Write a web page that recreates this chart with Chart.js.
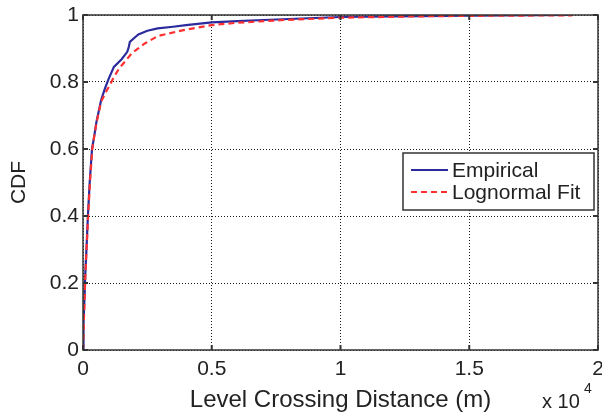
<!DOCTYPE html>
<html>
<head>
<meta charset="utf-8">
<script src="https://cdn.jsdelivr.net/npm/chart.js@4/dist/chart.umd.min.js"></script>
<style>
  body { margin: 0; background: #fff; }
  canvas { display: block; }
</style>
</head>
<body>
<canvas id="chart" width="602" height="417"></canvas>
<script>
// distances in units of 10^4 m
const empX = [0, 0.002, 0.006, 0.009, 0.014, 0.019, 0.026, 0.035, 0.044, 0.052, 0.07, 0.085, 0.1, 0.12, 0.15, 0.172, 0.178, 0.182, 0.2, 0.215, 0.25, 0.29, 0.35, 0.4, 0.5, 0.6, 0.7, 0.8, 1.0, 1.2, 1.5, 1.9];
const empY = [0, 0.08, 0.16, 0.23, 0.31, 0.40, 0.50, 0.60, 0.64, 0.68, 0.745, 0.78, 0.81, 0.845, 0.868, 0.89, 0.905, 0.92, 0.932, 0.942, 0.953, 0.96, 0.965, 0.97, 0.978, 0.982, 0.985, 0.988, 0.994, 0.996, 0.998, 1.0];

const fitX = [0, 0.003, 0.007, 0.01, 0.015, 0.02, 0.027, 0.036, 0.045, 0.053, 0.07, 0.085, 0.1, 0.12, 0.14, 0.19, 0.24, 0.29, 0.39, 0.5, 0.6, 0.78, 1.0, 1.3, 1.6, 1.9];
const fitY = [0, 0.08, 0.17, 0.24, 0.32, 0.40, 0.50, 0.60, 0.645, 0.68, 0.74, 0.765, 0.785, 0.815, 0.84, 0.886, 0.915, 0.937, 0.955, 0.97, 0.977, 0.985, 0.992, 0.996, 0.998, 0.999];

const xTicks = [0, 0.5, 1, 1.5, 2];
const yTicks = [0, 0.2, 0.4, 0.6, 0.8, 1];

const FONT = '"Liberation Sans", Arial, Helvetica, sans-serif';
const INK = '#222';

function toPoints(xs, ys) {
  return xs.map((x, i) => ({ x: x, y: ys[i] }));
}

// box round the axes, with small inward ticks (matlab style)
const axesBox = {
  id: 'axesBox',
  afterDraw(chart) {
    const { ctx, chartArea: a, scales } = chart;
    ctx.save();
    ctx.strokeStyle = '#333';
    ctx.lineWidth = 1.5;
    ctx.strokeRect(a.left, a.top, a.right - a.left, a.bottom - a.top);
    ctx.lineWidth = 2;
    ctx.beginPath();
    xTicks.forEach(v => {
      const px = scales.x.getPixelForValue(v);
      ctx.moveTo(px, a.bottom); ctx.lineTo(px, a.bottom - 5);
      ctx.moveTo(px, a.top); ctx.lineTo(px, a.top + 5);
    });
    yTicks.forEach(v => {
      const py = scales.y.getPixelForValue(v);
      ctx.moveTo(a.left, py); ctx.lineTo(a.left + 5, py);
      ctx.moveTo(a.right, py); ctx.lineTo(a.right - 5, py);
    });
    ctx.stroke();

    // exponent label
    ctx.fillStyle = INK;
    ctx.textBaseline = 'alphabetic';
    ctx.font = '20px ' + FONT;
    ctx.fillText('x 10', a.right - 56, 408);
    ctx.font = '14px ' + FONT;
    ctx.fillText('4', a.right - 14, 393);
    ctx.restore();
  }
};

// legend drawn inside the axes
const insideLegend = {
  id: 'insideLegend',
  afterDraw(chart) {
    const { ctx, chartArea: a } = chart;
    const w = 191, h = 57;
    const x0 = a.right - 4 - w, y0 = a.top + 138;
    ctx.save();
    ctx.fillStyle = '#fff';
    ctx.fillRect(x0, y0, w, h);
    ctx.strokeStyle = '#333';
    ctx.lineWidth = 1.5;
    ctx.strokeRect(x0, y0, w, h);
    const items = [chart.data.datasets[0], chart.data.datasets[1]];
    ctx.font = '21px ' + FONT;
    ctx.textBaseline = 'middle';
    items.forEach((ds, i) => {
      const y = y0 + 17 + i * 22;
      ctx.beginPath();
      ctx.strokeStyle = ds.borderColor;
      ctx.lineWidth = 2;
      ctx.setLineDash(ds.borderDash || []);
      ctx.moveTo(x0 + 8, y); ctx.lineTo(x0 + 45, y);
      ctx.stroke();
      ctx.setLineDash([]);
      ctx.fillStyle = INK;
      ctx.fillText(ds.label, x0 + 49, y + 1);
    });
    ctx.restore();
  }
};

const gridOpts = {
  color: '#1a1a1a',
  lineWidth: 1,
  drawTicks: false
};

new Chart(document.getElementById('chart'), {
  type: 'line',
  data: {
    datasets: [{
      label: 'Empirical',
      data: toPoints(empX, empY),
      borderColor: '#2b2b9e',
      borderWidth: 2.2,
      pointRadius: 0,
      tension: 0,
      order: 2
    }, {
      label: 'Lognormal Fit',
      data: toPoints(fitX, fitY),
      borderColor: '#ff3030',
      borderWidth: 2.2,
      borderDash: [6, 4],
      pointRadius: 0,
      tension: 0,
      order: 1
    }]
  },
  options: {
    responsive: false,
    animation: false,
    layout: { padding: { left: 0, right: 4, top: 15, bottom: 0 } },
    plugins: {
      legend: { display: false },
      tooltip: { enabled: false }
    },
    scales: {
      x: {
        type: 'linear',
        min: 0,
        max: 2,
        afterBuildTicks: s => { s.ticks = xTicks.map(v => ({ value: v })); },
        afterFit: s => { s.height = 67; s.paddingLeft = 0; s.paddingRight = 0; },
        ticks: {
          color: INK,
          padding: 7,
          maxRotation: 0,
          font: { family: FONT, size: 21 },
          callback: v => String(v)
        },
        grid: Object.assign({}, gridOpts),
        border: { display: false, dash: [1, 2] },
        title: {
          display: true,
          text: 'Level Crossing Distance (m)',
          color: INK,
          font: { family: FONT, size: 24 },
          padding: { top: 2, bottom: 2 }
        }
      },
      y: {
        min: 0,
        max: 1,
        afterBuildTicks: s => { s.ticks = yTicks.map(v => ({ value: v })); },
        afterFit: s => { s.width = 83; s.paddingTop = 0; s.paddingBottom = 0; },
        ticks: {
          color: INK,
          padding: 4,
          font: { family: FONT, size: 21 },
          callback: v => String(v)
        },
        grid: Object.assign({}, gridOpts),
        border: { display: false, dash: [1, 2] },
        title: {
          display: true,
          text: 'CDF',
          color: INK,
          font: { family: FONT, size: 21 },
          padding: { top: 7, bottom: 2 }
        }
      }
    }
  },
  plugins: [axesBox, insideLegend]
});
</script>
</body>
</html>
